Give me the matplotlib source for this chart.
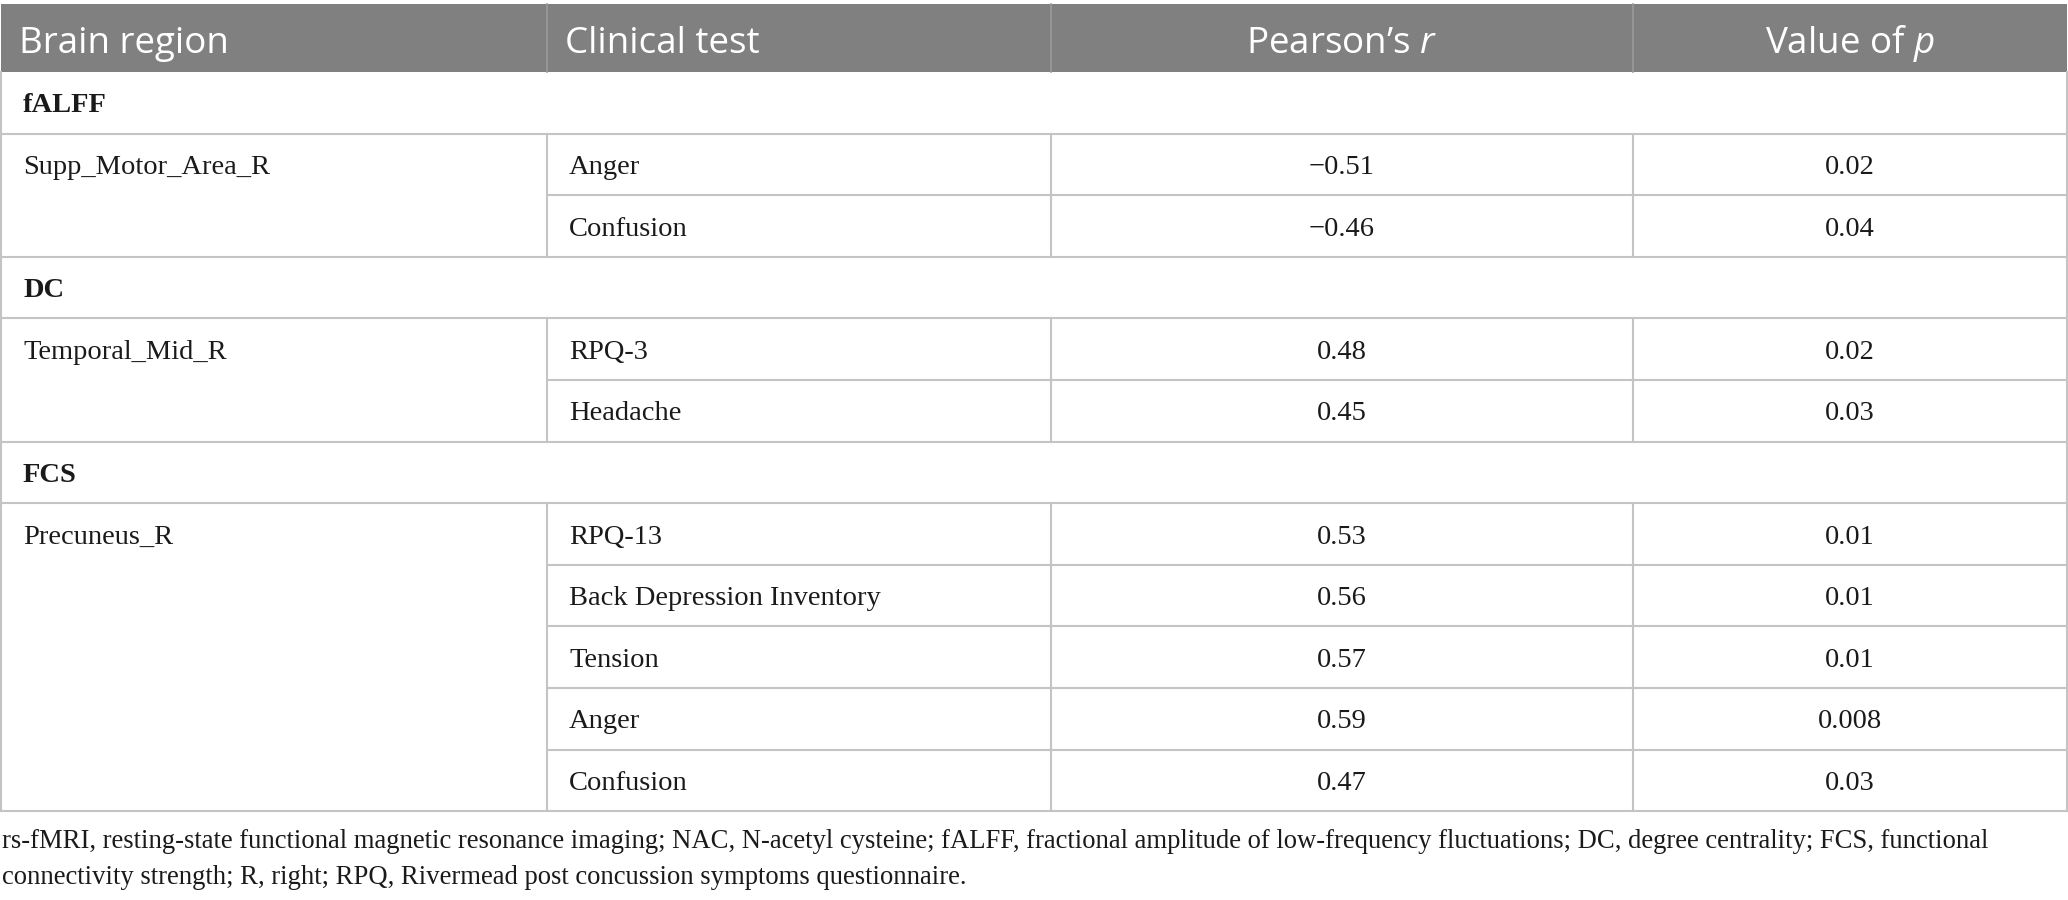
import matplotlib
matplotlib.use('Agg')
import matplotlib.pyplot as plt
from matplotlib.patches import Rectangle

# table content
headers = ['Brain region', 'Clinical test', 'Pearson’s $\\mathit{r}$', 'Value of $\\mathit{p}$']
sections = ['fALFF', 'DC', 'FCS']
regions = ['Supp_Motor_Area_R', 'Temporal_Mid_R', 'Precuneus_R']
tests = [
    ['Anger', 'Confusion'],
    ['RPQ-3', 'Headache'],
    ['RPQ-13', 'Back Depression Inventory', 'Tension', 'Anger', 'Confusion'],
]
r_vals = [
    [-0.51, -0.46],
    [0.48, 0.45],
    [0.53, 0.56, 0.57, 0.59, 0.47],
]
p_vals = [
    ['0.02', '0.04'],
    ['0.02', '0.03'],
    ['0.01', '0.01', '0.01', '0.008', '0.03'],
]
footnote = [
    'rs-fMRI, resting-state functional magnetic resonance imaging; NAC, N-acetyl cysteine; fALFF, fractional amplitude of low-frequency fluctuations; DC, degree centrality; FCS, functional',
    'connectivity strength; R, right; RPQ, Rivermead post concussion symptoms questionnaire.',
]

plt.rcParams['mathtext.fontset'] = 'custom'
plt.rcParams['mathtext.it'] = 'Open Sans:italic'
plt.rcParams['mathtext.rm'] = 'Open Sans'

W, H = 2068, 900
fig = plt.figure(figsize=(W / 100, H / 100), dpi=100)
ax = fig.add_axes([0, 0, 1, 1])
ax.set_xlim(0, W)
ax.set_ylim(H, 0)
ax.axis('off')

cols = [1, 547, 1051, 1633, 2067]
head_top, head_bot = 4, 72
row_h = 61.6
pad = 22
grid = '#c4c4c4'
lw = 1.5
serif = 'Liberation Serif'
fs = 20.5
hfs = 26.5
ink = '#1a1a1a'

# header band
ax.add_patch(Rectangle((cols[0], head_top), cols[-1] - cols[0], head_bot - head_top,
                       facecolor='#808080', edgecolor='none'))
for x in cols[1:-1]:
    ax.plot([x, x], [head_top, head_bot], color='#9a9a9a', lw=1.2)
for i, h in enumerate(headers):
    if i < 2:
        ax.text(cols[i] + pad - 4, 53, h, color='white', fontsize=hfs, family='Open Sans',
                ha='left', va='baseline')
    else:
        ax.text((cols[i] + cols[i + 1]) / 2, 53, h, color='white', fontsize=hfs,
                family='Open Sans', ha='center', va='baseline')

y = head_bot
for s, sec in enumerate(sections):
    # section row across full width
    ax.text(cols[0] + pad, y + row_h / 2 + 9.5, sec, fontsize=fs, family=serif,
            weight='bold', ha='left', va='baseline', color=ink)
    y += row_h
    ax.plot([cols[0], cols[-1]], [y, y], color=grid, lw=lw)
    g_top = y
    ax.text(cols[0] + pad, y + row_h / 2 + 9.5, regions[s], fontsize=fs, family=serif,
            ha='left', va='baseline', color=ink)
    for j, t in enumerate(tests[s]):
        yc = y + row_h / 2 + 9.5
        ax.text(cols[1] + pad, yc, t, fontsize=fs, family=serif, ha='left',
                va='baseline', color=ink)
        ax.text((cols[2] + cols[3]) / 2, yc, str(r_vals[s][j]).replace('-', '−'),
                fontsize=fs, family=serif, ha='center', va='baseline', color=ink)
        ax.text((cols[3] + cols[4]) / 2, yc, p_vals[s][j], fontsize=fs, family=serif,
                ha='center', va='baseline', color=ink)
        y += row_h
        x0 = cols[0] if j == len(tests[s]) - 1 else cols[1]
        ax.plot([x0, cols[-1]], [y, y], color=grid, lw=lw)
    for x in cols[1:-1]:
        ax.plot([x, x], [g_top, y], color=grid, lw=lw)

# outer border of body
ax.plot([cols[0], cols[0]], [head_bot, y], color=grid, lw=lw)
ax.plot([cols[-1], cols[-1]], [head_bot, y], color=grid, lw=lw)

# footnote, shrunk so the first line ends where the reference wraps
renderer = fig.canvas.get_renderer()
notes = []
for k, line in enumerate(footnote):
    notes.append(ax.text(2, 848 + 36 * k, line, fontsize=fs, family=serif, ha='left',
                         va='baseline', color=ink))
w = notes[0].get_window_extent(renderer).width
for t in notes:
    t.set_fontsize(fs * 1990 / w)

fig.savefig('out.png', dpi=100, facecolor='white')
